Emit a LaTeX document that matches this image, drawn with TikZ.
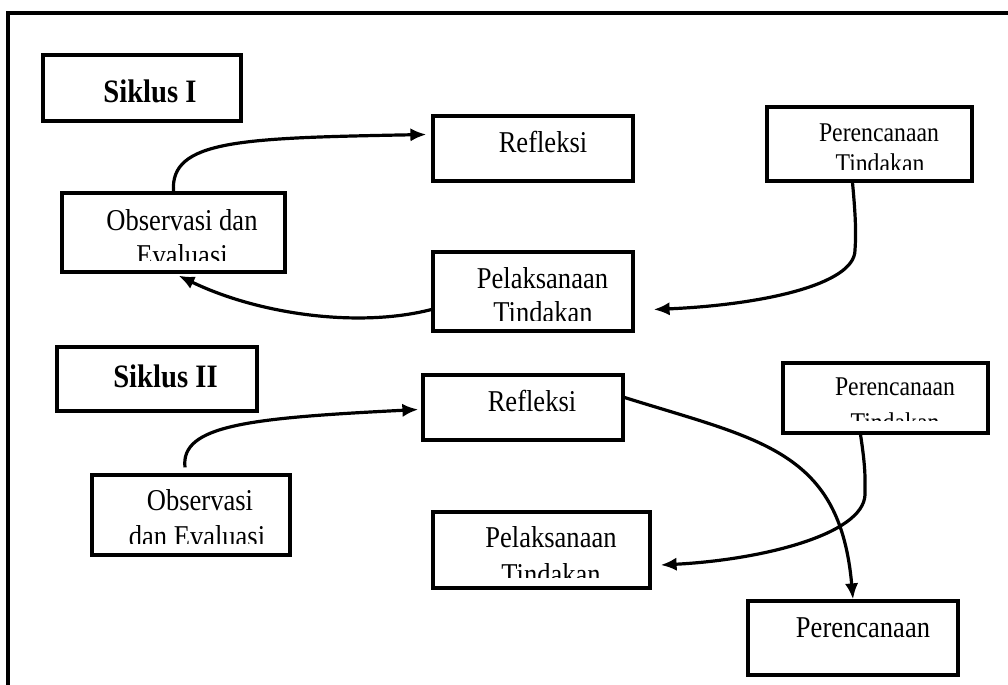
\documentclass[tikz,border=0pt]{standalone}
\usepackage{graphicx}
\usepackage{fontspec}
\setmainfont{Liberation Serif}
\usetikzlibrary{arrows.meta,fit,calc}
\newcommand{\vst}[1]{\scalebox{1}[1.14]{#1}}
\tikzset{
  bx/.style={draw=black,line width=2.4pt,inner sep=0pt,fill=none},
  txt/.style={anchor=base,inner sep=0pt,font=\fontsize{19.9}{24}\selectfont},
  txts/.style={anchor=base,inner sep=0pt,font=\fontsize{17.8}{22}\selectfont},
  ttl/.style={anchor=base,inner sep=0pt,font=\fontsize{21.5}{26}\selectfont\bfseries},
  arr/.style={line width=2.4pt,-{Latex[length=12pt,width=10pt]}}
}
\begin{document}
\begin{tikzpicture}[x=0.75pt,y=-0.75pt]
\useasboundingbox (0,0) rectangle (1008,685);
% outer frame
\draw[line width=2.4pt] (8,700) -- (8,13) -- (1020,13);

% boxes
\node[bx,fit={(43,55) (241,121)}] (sI) {};
\node[bx,fit={(433,116) (633,181)}] (refI) {};
\node[bx,fit={(767,107) (972,181)}] (ptI) {};
\node[bx,fit={(62,193) (285,272)}] (obsI) {};
\node[bx,fit={(433,252) (633,331)}] (pelI) {};
\node[bx,fit={(57,347) (257,411)}] (sII) {};
\node[bx,fit={(423,375) (623,440)}] (refII) {};
\node[bx,fit={(783,363) (988,433)}] (ptII) {};
\node[bx,fit={(92,475) (290,555)}] (obsII) {};
\node[bx,fit={(433,512) (650,588)}] (pelII) {};
\node[bx,fit={(748,601) (958,675)}] (perc) {};

% texts
\node[ttl] (tsI) at (150,103) {\vst{Siklus I}};
\node[ttl] (tsII) at (165.5,387) {\vst{Siklus II}};
\node[txt] (trefI) at (543,152) {\vst{Refleksi}};
\node[txt] (trefII) at (532,411) {\vst{Refleksi}};
\node[txt] (tperc) at (863,637) {\vst{Perencanaan}};
\begin{scope}
  \clip (767,107) rectangle (972,170);
  \node[txts] (tptI1) at (879,142) {\vst{Perencanaan}};
  \node[txts] (tptI2) at (880,173) {\vst{Tindakan}};
\end{scope}
\begin{scope}
  \clip (783,363) rectangle (988,420);
  \node[txts] (tptII1) at (895,395) {\vst{Perencanaan}};
  \node[txts] (tptII2) at (895,431) {\vst{Tindakan}};
\end{scope}
\begin{scope}
  \clip (433,252) rectangle (633,320);
  \node[txt] (tpelI1) at (542.5,288) {\vst{Pelaksanaan}};
  \node[txt] (tpelI2) at (543,322.5) {\vst{Tindakan}};
\end{scope}
\begin{scope}
  \clip (433,512) rectangle (650,577);
  \node[txt] (tpelII1) at (551,547) {\vst{Pelaksanaan}};
  \node[txt] (tpelII2) at (551,584.5) {\vst{Tindakan}};
\end{scope}
\begin{scope}
  \clip (62,193) rectangle (285,260);
  \node[txt] (tobsI1) at (182,230) {\vst{Observasi dan}};
  \node[txt] (tobsI2) at (182,265) {\vst{Evaluasi}};
\end{scope}
\begin{scope}
  \clip (92,475) rectangle (290,543);
  \node[txt] (tobsII1) at (200,510) {\vst{Observasi}};
  \node[txt] (tobsII2) at (197,546) {\vst{dan Evaluasi}};
\end{scope}

% connectors
\draw[arr] (obsI.north) .. controls (170,140) and (240,138) .. ($(refI.west)+(-5,-14)$);
\draw[arr] ($(pelI.west)+(0,18)$) .. controls (360,328) and (260,315) .. ($(obsI.south)+(5,2)$);
\draw[arr] ($(ptI.south)+(-17,0)$) .. controls (856,220) and (856,235) .. (855,250)
   .. controls (855,285) and (760,305) .. ($(pelI.east)+(19,18)$);
\draw[arr] ($(obsII.north)+(-6,-6)$) .. controls (180,425) and (250,418) .. ($(refII.west)+(-3,2)$);
\draw[arr] ($(refII.east)+(0,-10)$) .. controls (760,440) and (840,450) .. (perc.north);
\draw[arr] ($(ptII.south)+(-25,0)$) .. controls (866,470) and (865,480) .. (865,495)
   .. controls (863,535) and (760,560) .. ($(pelII.east)+(9,15)$);
\end{tikzpicture}
\end{document}
